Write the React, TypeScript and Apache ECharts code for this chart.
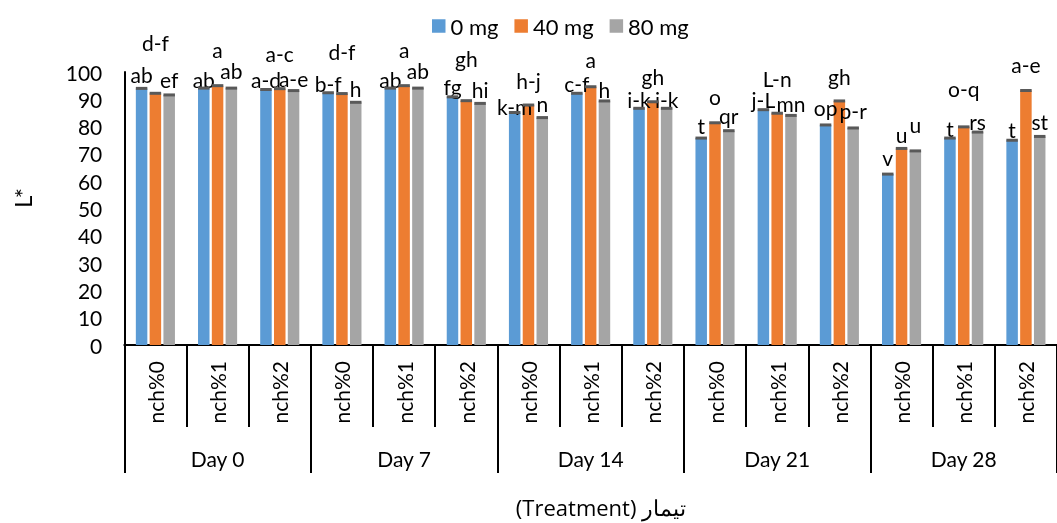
import React, { useEffect, useRef } from "react";
import * as echarts from "echarts";

const days = ["Day 0", "Day 7", "Day 14", "Day 21", "Day 28"];
const treatments = ["nch%0", "nch%1", "nch%2"];
const categories = days.flatMap(() => treatments);
const seriesNames = ["0 mg", "40 mg", "80 mg"];
const yTicks = { min: 0, max: 100, interval: 10 };

const mg0 = [94.0, 94.1, 93.6, 92.4, 94.1, 90.9, 85.2, 92.2, 86.7, 75.8, 86.2, 80.6, 62.6, 75.8, 75.0];
const mg40 = [92.2, 95.0, 93.9, 92.1, 95.0, 89.5, 87.9, 94.6, 89.1, 81.4, 84.9, 89.4, 72.0, 79.9, 93.2];
const mg80 = [91.6, 94.1, 93.2, 88.9, 94.1, 88.5, 83.3, 89.4, 86.7, 78.5, 84.1, 79.5, 71.1, 78.0, 76.4];

const letters0 = ["ab", "ab", "a-d", "b-f", "ab", "fg", "k-m", "c-f", "i-k", "t", "j-L", "op", "v", "t", "t"];
const letters40 = ["d-f", "a", "a-c", "d-f", "a", "gh", "h-j", "a", "gh", "o", "L-n", "gh", "u", "o-q", "a-e"];
const letters80 = ["ef", "ab", "a-e", "h", "ab", "hi", "n", "h", "i-k", "qr", "mn", "p-r", "u", "rs", "st"];

// label lift above bar top (px), layout only
const lift0 = [14.3, 8.7, 10.3, 9.4, 9, 10.7, 6.3, 9.3, 9, 13, 9.7, 17.3, 16.7, 9.7, 10.3];
const lift40 = [50.6, 36, 35.4, 42, 36, 42.4, 25, 27, 25.7, 26.4, 35, 24.3, 13.6, 38.7, 25.7];
const lift80 = [15, 18, 11.7, 14, 17.3, 14, 13.7, 11.7, 9, 14.7, 12.3, 17.3, 26.3, 10.3, 14.6];

const colors = ["#5B9BD5", "#ED7D31", "#A5A5A5"];
const FONT = "Lato";
const FS = 21;
const LFS = 21;
const LLH = 18;
const BAR_W = 11.5;
const STEP = 13.8;

export default function App() {
  const ref = useRef<HTMLDivElement>(null);
  useEffect(() => {
    if (!ref.current) return;
    const chart = echarts.init(ref.current, null, { renderer: "svg" });
    const values = [mg0, mg40, mg80];
    const letters = [letters0, letters40, letters80];
    const lifts = [lift0, lift40, lift80];

    const barSeries = values.map((vals, s) => ({
      name: seriesNames[s],
      type: "bar",
      xAxisIndex: 0,
      barWidth: BAR_W,
      barGap: "20%",
      itemStyle: { color: colors[s] },
      label: {
        show: true,
        position: "top",
        distance: 0,
        fontSize: LFS,
        lineHeight: LLH,
        fontFamily: FONT,
        color: "#000",
        formatter: (p: any) => letters[s][p.dataIndex],
      },
      data: vals.map((v, i) => ({ value: v, label: { offset: [0, LLH / 2 - lifts[s][i]] } })),
    }));

    const capSeries = values.map((vals, s) => ({
      name: "cap" + s,
      type: "custom",
      xAxisIndex: 0,
      z: 5,
      silent: true,
      renderItem: (params: any, api: any) => {
        const p = api.coord([api.value(0), api.value(1)]);
        return {
          type: "rect",
          shape: { x: p[0] + (s - 1) * STEP - BAR_W / 2, y: p[1] - 1.5, width: BAR_W, height: 3 },
          style: { fill: "#595959" },
        };
      },
      data: vals.map((v, i) => [i, v]),
    }));

    chart.setOption({
      animation: false,
      textStyle: { fontFamily: FONT },
      legend: {
        data: seriesNames,
        left: 427,
        top: 10,
        itemWidth: 13.5,
        itemHeight: 13.5,
        itemGap: 16,
        icon: "rect",
        textStyle: { fontSize: 22, fontFamily: FONT, color: "#000" },
      },
      grid: { left: 124.3, right: -7.3, top: 72, bottom: 178, containLabel: false },
      xAxis: [
        {
          type: "category",
          data: categories,
          position: "bottom",
          axisLine: { show: true, lineStyle: { color: "#000", width: 2 } },
          axisTick: { show: true, interval: 0, length: 82, lineStyle: { color: "#000", width: 2 } },
          axisLabel: { interval: 0, rotate: 90, margin: 16, fontSize: FS, fontFamily: FONT, color: "#000" },
        },
        {
          type: "category",
          data: days,
          position: "bottom",
          offset: 0,
          axisLine: { show: false },
          axisTick: { show: true, interval: 0, length: 128, lineStyle: { color: "#000", width: 2 } },
          axisLabel: { interval: 0, margin: 102.5, fontSize: FS, fontFamily: FONT, color: "#000" },
        },
      ],
      yAxis: {
        type: "value",
        min: yTicks.min,
        max: yTicks.max,
        interval: yTicks.interval,
        axisLine: { show: true, lineStyle: { color: "#000", width: 2 } },
        axisTick: { show: false },
        splitLine: { show: false },
        axisLabel: { margin: 22, fontSize: FS, fontFamily: FONT, color: "#000" },
      },
      graphic: [
        {
          type: "text",
          x: 22,
          y: 198,
          rotation: Math.PI / 2,
          style: { text: "L*", fontSize: 24, fontFamily: FONT, fill: "#000", textAlign: "center", textVerticalAlign: "middle" },
        },
        {
          type: "text",
          x: 601,
          y: 507,
          style: { text: "(Treatment) تیمار", fontSize: 22, lineHeight: 24, fontFamily: "Open Sans", fill: "#000", textAlign: "center", textVerticalAlign: "middle" },
        },
      ],
      series: [...barSeries, ...capSeries],
    });
    return () => chart.dispose();
  }, []);
  return <div ref={ref} style={{ position: "fixed", left: 0, top: 0, width: 1057, height: 523 }} />;
}
